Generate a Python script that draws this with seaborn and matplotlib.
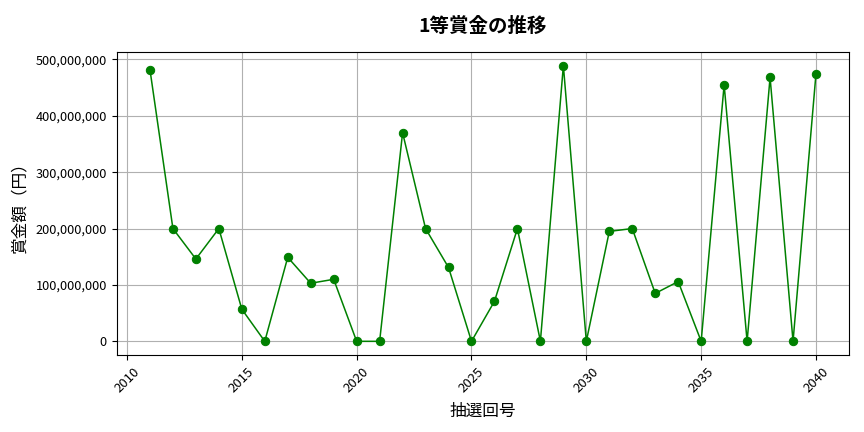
import matplotlib
matplotlib.use("Agg")
import matplotlib.pyplot as plt
import matplotlib.ticker as mticker
import seaborn as sns
import pandas as pd

rounds = list(range(2011, 2041))
prize = [482e6, 200e6, 146e6, 200e6, 57e6, 0, 149e6, 103e6, 110e6, 0,
         0, 370e6, 200e6, 131e6, 0, 71e6, 200e6, 0, 489e6, 0,
         195e6, 200e6, 85e6, 106e6, 0, 455e6, 0, 468e6, 0, 475e6]

plt.rcParams['font.family'] = ['Noto Sans CJK JP', 'DejaVu Sans']

df = pd.DataFrame({"round": rounds, "prize": prize})

fig, ax = plt.subplots(figsize=(8.64, 4.32), dpi=100)
sns.lineplot(data=df, x="round", y="prize", marker="o", color="green",
             markersize=6, markeredgecolor="green", linewidth=1.1, ax=ax)
ax.set_title("1等賞金の推移", fontsize=14, fontweight="bold", pad=14)
ax.set_xlabel("抽選回号", fontsize=12, labelpad=6)
ax.set_ylabel("賞金額（円）", fontsize=12, labelpad=5)
ax.yaxis.set_major_formatter(mticker.FuncFormatter(lambda v, p: f"{int(v):,}"))
ax.grid(True, color="#b0b0b0", linewidth=0.8)
ax.tick_params(axis="x", rotation=45, labelsize=9.5)
ax.tick_params(axis="y", labelsize=9.2)
fig.subplots_adjust(left=0.135, right=0.983, top=0.880, bottom=0.178)
fig.savefig("out.png", dpi=100)
